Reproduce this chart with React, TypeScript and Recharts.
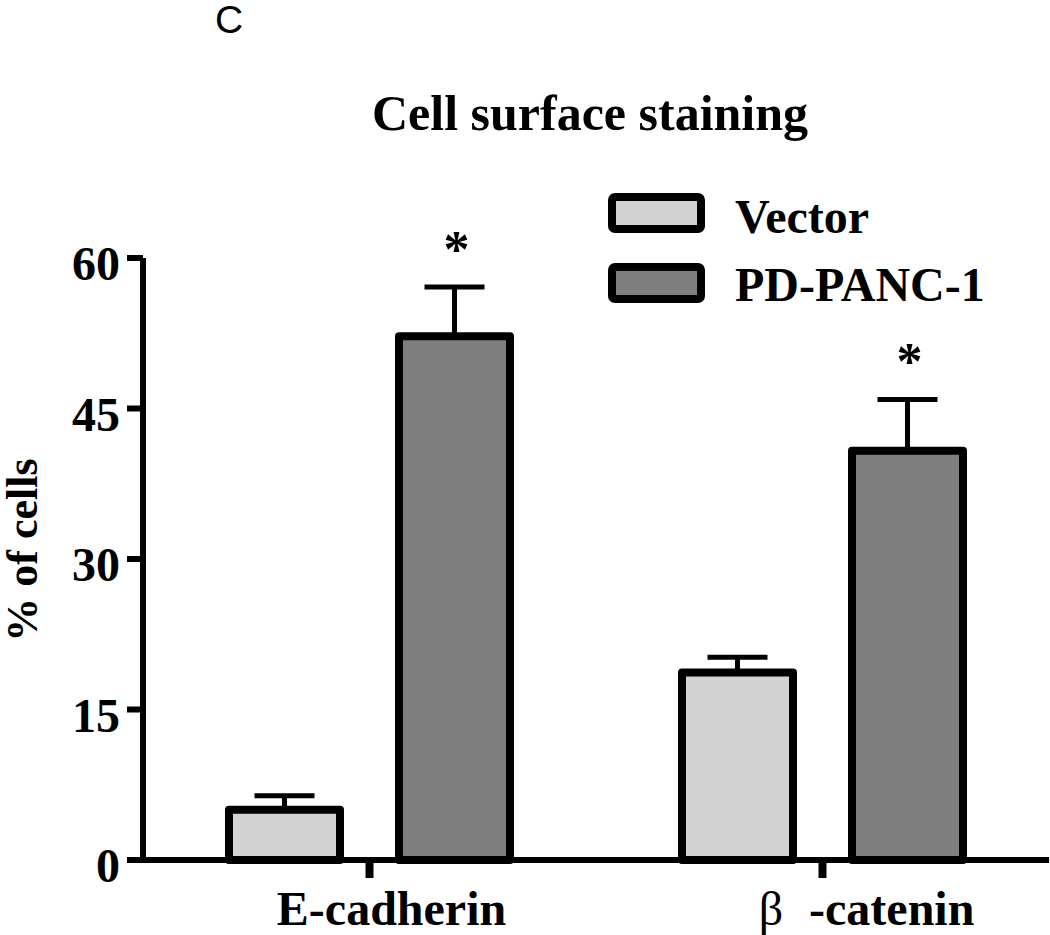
import React from 'react';
import { BarChart, Bar, XAxis, YAxis, ErrorBar, LabelList, Legend } from 'recharts';

// values (% of cells, mean + upper SEM)
const categories = ['E-cadherin', 'β-catenin'];
const seriesNames = ['Vector', 'PD-PANC-1'];
const vectorMean = [5.0, 18.7];
const vectorErr = [1.4, 1.5];
const pdMean = [52.2, 40.8];
const pdErr = [4.9, 5.1];
const pdMark = ['*', '*'];
const yTicks = [0, 15, 30, 45, 60];

const title = 'Cell surface staining';
const yLabel = '% of cells';
const panel = 'C';

const SERIF = '"Liberation Serif", "Times New Roman", serif';
const SANS = '"Liberation Sans", Arial, sans-serif';

const data = categories.map((name, i) => ({
  name,
  vector: vectorMean[i],
  vectorErr: [0, vectorErr[i]],
  pd: pdMean[i],
  pdErr: [0, pdErr[i]],
  mark: pdMark[i],
}));

// the labels in the original sit a bit right of their ticks
const tickShift = [22, 44];

const YTick = (props: any) => {
  const { x, y, payload } = props;
  return (
    <text x={x} y={y + 22} textAnchor="end" fontFamily={SERIF} fontWeight="bold" fontSize={48} fill="#000">
      {payload.value}
    </text>
  );
};

const XTick = (props: any) => {
  const { x, y, payload, index } = props;
  const label: string = payload.value;
  const cx = x + (tickShift[index] || 0);
  if (label.startsWith('β')) {
    return (
      <text x={cx} y={y + 47} textAnchor="middle" fontFamily={SERIF} fontWeight="bold" fontSize={48} fill="#000">
        <tspan fontWeight="normal">β</tspan>
        <tspan dx={14}>{' ' + label.slice(1)}</tspan>
      </text>
    );
  }
  return (
    <text x={cx} y={y + 47} textAnchor="middle" fontFamily={SERIF} fontWeight="bold" fontSize={48} fill="#000">
      {label}
    </text>
  );
};

const renderYLabel = (props: any) => {
  const vb = props.viewBox || { x: 0, y: 258, width: 143, height: 602 };
  const cy = vb.y + vb.height / 2 - 9;
  const bx = 37;
  return (
    <text
      x={bx}
      y={cy}
      transform={`rotate(-90 ${bx} ${cy})`}
      textAnchor="middle"
      fontFamily={SERIF}
      fontWeight="bold"
      fontSize={44}
      fill="#000"
    >
      {yLabel}
    </text>
  );
};

const renderMark = (props: any) => {
  const { x, y, width, height, index, value } = props;
  const perUnit = height / pdMean[index];
  const capY = y - pdErr[index] * perUnit;
  return (
    <text x={x + width / 2 + 2} y={capY - 20} textAnchor="middle" fontFamily={SERIF} fontWeight="bold" fontSize={52} fill="#000">
      {value}
    </text>
  );
};

const renderLegend = (props: any) => {
  const { payload = [] } = props;
  const items = [...payload].sort(
    (a: any, b: any) => seriesNames.indexOf(a.value) - seriesNames.indexOf(b.value)
  );
  return (
    <svg width={420} height={140} style={{ display: 'block' }}>
      {items.map((entry: any, i: number) => (
        <g key={entry.value}>
          <rect
            x={12}
            y={12 + i * 70}
            width={89}
            height={32}
            rx={3}
            fill={entry.payload?.fill ?? entry.color}
            stroke="#000"
            strokeWidth={8}
            strokeLinejoin="round"
          />
          <text x={135} y={48 + i * 68} fontFamily={SERIF} fontWeight="bold" fontSize={48} fill="#000">
            {entry.value}
          </text>
        </g>
      ))}
    </svg>
  );
};

export default function App() {
  return (
    <div style={{ position: 'absolute', left: 0, top: 0, width: 1050, height: 935, background: '#fff' }}>
      <BarChart
        width={1050}
        height={935}
        data={data}
        margin={{ top: 258, right: 1, bottom: 0, left: 0 }}
        barGap={59}
      >
        <Legend
          layout="vertical"
          align="center"
          verticalAlign="middle"
          wrapperStyle={{ left: 600, top: 185, width: 420, height: 140 }}
          content={renderLegend}
        />
        <Bar
          dataKey="vector"
          name={seriesNames[0]}
          fill="#d3d3d3"
          stroke="#000"
          strokeWidth={8}
          strokeLinejoin="round"
          barSize={111}
          isAnimationActive={false}
        >
          <ErrorBar dataKey="vectorErr" direction="y" width={30} stroke="#000" strokeWidth={5} isAnimationActive={false} />
        </Bar>
        <Bar
          dataKey="pd"
          name={seriesNames[1]}
          fill="#7f7f7f"
          stroke="#000"
          strokeWidth={8}
          strokeLinejoin="round"
          barSize={111}
          isAnimationActive={false}
        >
          <ErrorBar dataKey="pdErr" direction="y" width={30} stroke="#000" strokeWidth={5} isAnimationActive={false} />
          <LabelList dataKey="mark" content={renderMark} />
        </Bar>
        <XAxis
          dataKey="name"
          height={75}
          axisLine={{ stroke: '#000', strokeWidth: 6 }}
          tickLine={{ stroke: '#000', strokeWidth: 8 }}
          tickSize={18}
          tickMargin={0}
          tick={<XTick />}
          interval={0}
        />
        <YAxis
          width={143}
          domain={[0, 60]}
          ticks={yTicks}
          axisLine={{ stroke: '#000', strokeWidth: 6 }}
          tickLine={{ stroke: '#000', strokeWidth: 6 }}
          tickSize={16}
          tickMargin={7}
          tick={<YTick />}
          label={renderYLabel}
        />
      </BarChart>
      <svg width={1050} height={160} style={{ position: 'absolute', left: 0, top: 0, pointerEvents: 'none' }}>
        <text x={215} y={33} fontFamily={SANS} fontSize={39} fill="#000">
          {panel}
        </text>
        <text x={590} y={130} textAnchor="middle" fontFamily={SERIF} fontWeight="bold" fontSize={50} fill="#000">
          {title}
        </text>
      </svg>
    </div>
  );
}
